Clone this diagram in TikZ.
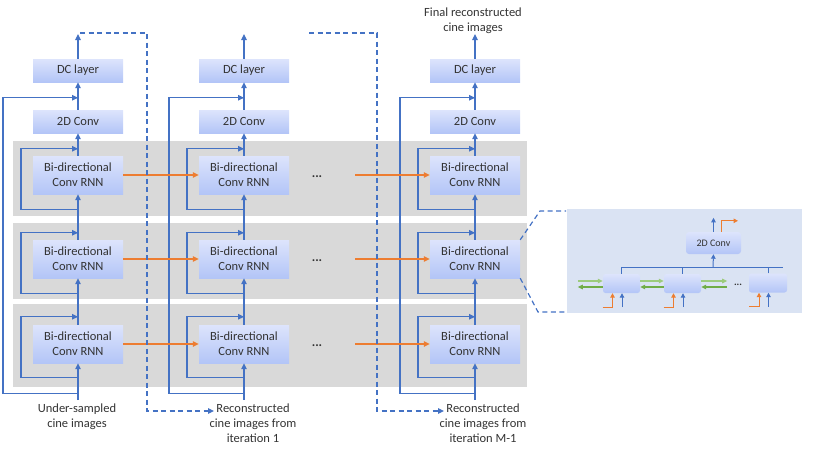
\documentclass[tikz,border=0pt]{standalone}
\usepackage{fontspec}
\setmainfont{Carlito}
\usetikzlibrary{arrows.meta,calc}
\definecolor{bl}{HTML}{4472C4}
\definecolor{og}{HTML}{ED7D31}
\definecolor{gr}{HTML}{70AD47}
\definecolor{grl}{HTML}{9CCB7C}
\definecolor{band}{HTML}{D9D9D9}
\definecolor{insetc}{HTML}{DAE3F3}
\definecolor{boxtop}{HTML}{DDE4FC}
\definecolor{boxbot}{HTML}{B3C5F7}
\definecolor{txt}{HTML}{333333}
\begin{document}
\begin{tikzpicture}[x=1pt,y=-1pt,
  font=\fontsize{12.5}{15}\selectfont, text=txt,
  blk/.style={rectangle, top color=boxtop, bottom color=boxbot, draw=none,
    minimum width=90pt, inner sep=0pt, align=center},
  onebox/.style={blk, minimum height=23pt},
  bibox/.style={blk, minimum height=38pt},
  sblk/.style={blk, minimum width=37pt, minimum height=19pt, rounded corners=2.5pt},
  bline/.style={draw=bl, line width=1.2pt},
  arr/.style={bline, -{Triangle[length=6pt,width=5.5pt]}},
  dsh/.style={draw=bl, line width=1.2pt, dash pattern=on 5pt off 3.5pt},
  darr/.style={dsh, -{Triangle[length=6pt,width=5.5pt]}},
  oarr/.style={draw=og, line width=1.4pt, -{Triangle[length=6pt,width=5.5pt]}},
  oarrt/.style={draw=og, line width=1.1pt, -{Triangle[length=6pt,width=5.5pt]}},
  sline/.style={draw=bl, line width=1pt},
  sarr/.style={sline, -{Triangle[length=4.5pt,width=4.5pt]}},
  osarr/.style={draw=og, line width=1pt, -{Triangle[length=4.5pt,width=4.5pt]}},
  garr/.style={draw=gr, line width=1.2pt, -{Triangle[length=5pt,width=4.5pt]}},
  glarr/.style={draw=grl, line width=1.2pt, -{Triangle[length=5pt,width=4.5pt]}},
  lbl/.style={align=center, anchor=north, inner sep=0pt},
  dots/.style={font=\fontsize{13}{15}\bfseries},
]
\useasboundingbox (0,0) rectangle (830,453);

% gray bands
\fill[band] (13,141) rectangle (527,216);
\fill[band] (13,223) rectangle (527,299);
\fill[band] (13,304) rectangle (527,387);

% columns
\foreach \c/\X in {1/78,2/244,3/475} {
  \node[onebox] (dc\c) at (\X,70.5) {DC layer};
  \node[onebox] (cv\c) at (\X,121.5) {2D Conv};
  \node[bibox] (ba\c) at (\X,175) {Bi-directional\\Conv RNN};
  \node[bibox] (bb\c) at (\X,259) {Bi-directional\\Conv RNN};
  \node[bibox] (bc\c) at (\X,344) {Bi-directional\\Conv RNN};
  \coordinate (top\c) at (\X,34);
  \coordinate (bot\c) at (\X,400);
  \draw[arr] (bot\c) -- (bc\c.south);
  \draw[arr] (bc\c.north) -- (bb\c.south);
  \draw[arr] (bb\c.north) -- (ba\c.south);
  \draw[arr] (ba\c.north) -- (cv\c.south);
  \draw[arr] (cv\c.north) -- (dc\c.south);
  \draw[arr] (dc\c.north) -- (top\c);
  % inner loops
  \draw[arr] ($(ba\c.south)+(0,15)$) -- ++(-57,0) |- ($(ba\c.north)+(0,-7)$);
  \draw[arr] ($(bb\c.south)+(0,15)$) -- ++(-57,0) |- ($(bb\c.north)+(0,-7)$);
  \draw[arr] ($(bc\c.south)+(0,14)$) -- ++(-57,0) |- ($(bc\c.north)+(0,-8)$);
  % outer loop
  \draw[arr] ($(bc\c.south)+(0,30)$) -- ++(-75,0) |- ($(cv\c.north)+(0,-12)$);
}

% orange recurrent connections
\node[dots] (dta) at (317,177) {...};
\node[dots] (dtb) at (317,261) {...};
\node[dots] (dtc) at (317,346) {...};
\coordinate (oa) at (355,175);
\coordinate (ob) at (355,259);
\coordinate (oc) at (355,344);
\draw[oarr] (ba1.east) -- (ba2.west);
\draw[oarr] (oa) -- (ba3.west);
\draw[oarrt] (bb1.east) -- (bb2.west);
\draw[oarrt] (ob) -- (bb3.west);
\draw[oarr] (bc1.east) -- (bc2.west);
\draw[oarr] (oc) -- (bc3.west);

% labels
\node[lbl] (in1) at (77,404) {Under-sampled\\cine images};
\node[lbl] (rec1) at (253,404) {Reconstructed\\cine images from\\iteration 1};
\node[lbl] (rec2) at (483,404) {Reconstructed\\cine images from\\iteration M-1};
\node[lbl] (fin) at (473,8) {Final reconstructed\\cine images};

% dashed feedback paths
\coordinate (d1a) at (147,33);
\coordinate (d1b) at (147,411);
\coordinate (r1tip) at (214,411);
\draw[darr] ($(top1)+(2,-1)$) -- (d1a) -- (d1b) -- (r1tip);
\coordinate (d2s) at (309,33);
\coordinate (d2a) at (377,33);
\coordinate (d2b) at (377,411);
\coordinate (r2tip) at (444,411);
\draw[darr] (d2s) -- (d2a) -- (d2b) -- (r2tip);

% inset
\fill[insetc] (567,209) rectangle (802,313);
\coordinate (z1) at (540,211);
\coordinate (z2) at (566,211);
\coordinate (z3) at (538,312);
\coordinate (z4) at (566,312);
\draw[dsh] (bb3.north east) -- (z1) -- (z2);
\draw[dsh] (bb3.south east) -- (z3) -- (z4);

\node[blk, minimum width=55pt, minimum height=22pt, rounded corners=3pt,
  font=\fontsize{10}{12}\selectfont] (ic) at (713.5,243) {2D Conv};
\node[sblk] (ia) at (621.5,283.5) {};
\node[sblk] (ib) at (682.5,283.5) {};
\node[sblk, minimum width=38pt] (icc) at (768,283) {};

\coordinate (busl) at (621.5,267);
\coordinate (busr) at (783,267);
\draw[sline] (ia.north) -- (busl) -- (busr);
\draw[sline] (ib.north) -- ++(0,-7);
\draw[sline] (icc.north) -- ++(0,-6);
\draw[sarr] (713,267) -- (ic.south);
\draw[sarr] (ic.north) -- ++(0,-14);
\draw[osarr] ($(ic.north)+(7.5,0)$) -- ++(0,-11) -- ++(17,0);

% green bidirectional arrows
\draw[glarr] ($(ia.west)+(-25,-2.5)$) -- ($(ia.west)+(0,-2.5)$);
\draw[garr] ($(ia.west)+(0,3.5)$) -- ++(-25,0);
\draw[glarr] ($(ia.east)+(0,-2.5)$) -- ($(ib.west)+(0,-2.5)$);
\draw[garr] ($(ib.west)+(0,3.5)$) -- ($(ia.east)+(0,3.5)$);
\draw[glarr] ($(ib.east)+(0,-2.5)$) -- ++(26,0);
\draw[garr] ($(ib.east)+(26,3.5)$) -- ($(ib.east)+(0,3.5)$);
\node[font=\fontsize{10}{12}\bfseries] (idots) at (738,285) {...};

% inputs below the small boxes
\foreach \b in {ia,ib,icc} {
  \draw[sarr] ($(\b.south)+(0.5,14)$) -- ($(\b.south)+(0.5,0)$);
  \draw[osarr] ($(\b.south)+(-19,14)$) -- ++(10,0) -- ($(\b.south)+(-9,0)$);
}
\end{tikzpicture}
\end{document}
